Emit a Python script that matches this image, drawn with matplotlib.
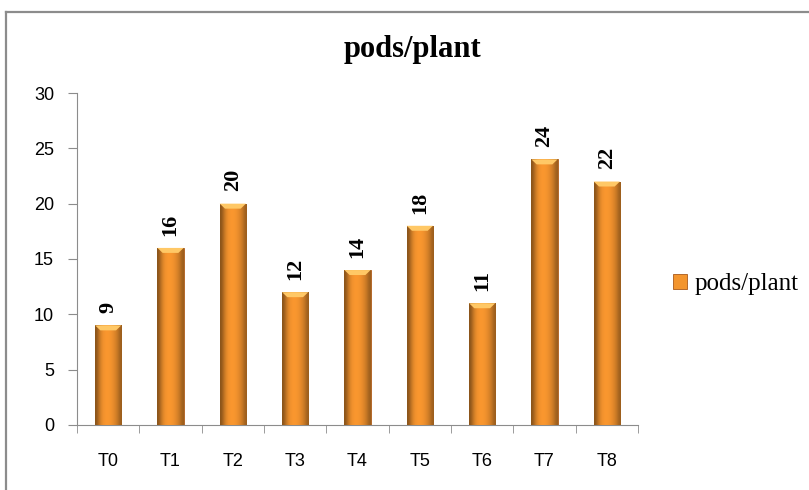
import numpy as np
import matplotlib.pyplot as plt
from matplotlib.patches import Rectangle
from matplotlib.lines import Line2D

treatments = ["T0", "T1", "T2", "T3", "T4", "T5", "T6", "T7", "T8"]
pods_per_plant = [9, 16, 20, 12, 14, 18, 11, 24, 22]

fig = plt.figure(figsize=(8.09, 4.9), dpi=100)
ax = fig.add_axes([0.0952, 0.1327, 0.6934, 0.6775])

# chart area border (runs off the right and bottom edges)
fig.add_artist(Line2D([6 / 809, 6 / 809], [0, 1 - 12 / 490], transform=fig.transFigure,
                      color="#8c8c8c", lw=1.6))
fig.add_artist(Line2D([6 / 809, 1], [1 - 12 / 490, 1 - 12 / 490], transform=fig.transFigure,
                      color="#8c8c8c", lw=1.6))

x = np.arange(len(treatments))
bars = ax.bar(x, pods_per_plant, width=0.42, color="#F3952E", edgecolor="#A8591A",
              linewidth=0.6, label="pods/plant", zorder=2)

# horizontal shading so the bars look rounded
shade = np.array([0.55, 0.8, 0.95, 1.0, 1.0, 0.97, 0.9, 0.8, 0.62])
base = np.array([0.96, 0.58, 0.18])
grad = np.clip(shade[None, :, None] * base[None, None, :] * 1.02, 0, 1)
for b in bars:
    x0, w, h = b.get_x(), b.get_width(), b.get_height()
    im = ax.imshow(grad, extent=[x0, x0 + w, 0, h], aspect="auto", zorder=3,
                   interpolation="bicubic")
    im.set_clip_path(b)
    # lighter bevel on top
    ax.fill([x0, x0 + w, x0 + w * 0.8, x0 + w * 0.2], [h, h, h - 0.45, h - 0.45],
            color="#FFC866", zorder=4, lw=0)
    ax.text(x0 + w / 2, h + 1.1, str(int(h)), rotation=90, ha="center", va="bottom",
            fontsize=16, fontweight="bold", family="Liberation Serif", zorder=5)

ax.set_xlim(-0.5, len(treatments) - 0.5)
ax.set_ylim(0, 30)
ax.set_yticks(range(0, 31, 5))
ax.set_xticks(x)
ax.set_xticklabels(treatments, family="Liberation Sans", fontsize=13)
ax.set_xticks(np.arange(-0.5, len(treatments)), minor=True)
ax.tick_params(axis="x", which="major", length=0, pad=20)
ax.tick_params(axis="x", which="minor", length=6, color="#8c8c8c")
ax.tick_params(axis="y", length=6.5, color="#8c8c8c", labelsize=13, pad=10)
for lab in ax.get_yticklabels():
    lab.set_family("Liberation Sans")
for side in ["top", "right"]:
    ax.spines[side].set_visible(False)
for side in ["left", "bottom"]:
    ax.spines[side].set_color("#8c8c8c")

fig.text(412 / 809, 1 - 49 / 490, "pods/plant", ha="center", va="center", fontsize=22,
         fontweight="bold", family="Liberation Serif")

handle = Rectangle((0, 0), 1, 1, facecolor="#F3952E", edgecolor="#A8591A", lw=0.6)
fig.legend([handle], ["pods/plant"], loc="center left", bbox_to_anchor=(0.8165, 0.42),
           frameon=False, prop={"family": "Liberation Serif", "size": 18},
           handlelength=0.55, handleheight=0.55, handletextpad=0.3, borderpad=0)

fig.savefig("out.png", dpi=100)
